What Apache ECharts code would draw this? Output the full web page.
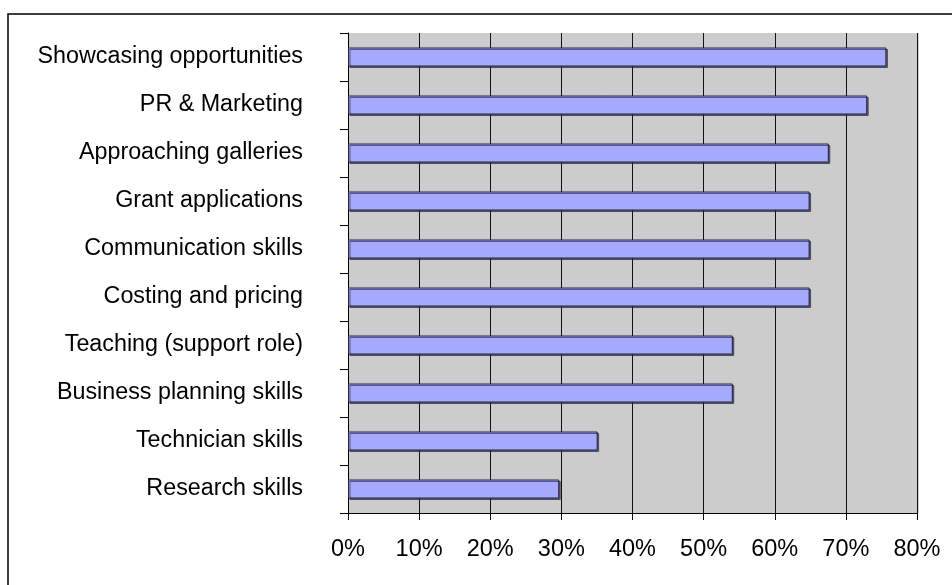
<!DOCTYPE html>
<html>
<head>
<meta charset="utf-8">
<title>Skills wanted</title>
<script src="https://cdn.jsdelivr.net/npm/echarts@6/dist/echarts.min.js"></script>
<style>
  html, body { margin: 0; padding: 0; background: #fff; }
  #chart { width: 952px; height: 585px; }
</style>
</head>
<body>
<div id="chart"></div>
<script>
// Skill areas, listed top to bottom
const skills = [
  'Showcasing opportunities',
  'PR & Marketing',
  'Approaching galleries',
  'Grant applications',
  'Communication skills',
  'Costing and pricing',
  'Teaching (support role)',
  'Business planning skills',
  'Technician skills',
  'Research skills'
];

// Share of respondents naming each skill
const shares = [0.757, 0.730, 0.676, 0.649, 0.649, 0.649, 0.541, 0.541, 0.351, 0.297];

// Value axis ticks
const axisMin = 0;
const axisMax = 0.8;
const axisStep = 0.1;

const FONT = '"Liberation Sans", Arial, sans-serif';

const chart = echarts.init(document.getElementById('chart'), null, { renderer: 'canvas' });

chart.setOption({
  animation: false,
  backgroundColor: '#ffffff',
  textStyle: { fontFamily: FONT },
  graphic: [
    {
      type: 'rect',
      z: -10,
      shape: { x: 8, y: 14, width: 980, height: 620 },
      style: { fill: 'none', stroke: '#000', lineWidth: 1.5 }
    }
  ],
  grid: {
    left: 348,
    top: 33,
    right: 35,
    bottom: 72,
    show: true,
    backgroundColor: '#cccccc',
    borderWidth: 0,
    shadowColor: 'rgba(0,0,0,0.35)',
    shadowOffsetX: 1.5,
    shadowOffsetY: 0,
    containLabel: false
  },
  xAxis: {
    type: 'value',
    min: axisMin,
    max: axisMax,
    interval: axisStep,
    axisLine: { show: true, lineStyle: { color: '#000', width: 1 } },
    axisTick: { show: true, length: 7, lineStyle: { color: '#000', width: 1 } },
    splitLine: { show: true, lineStyle: { color: '#111', width: 1 } },
    axisLabel: {
      color: '#000',
      fontSize: 23.5,
      fontFamily: FONT,
      margin: 25,
      formatter: v => Math.round(v * 100) + '%'
    }
  },
  yAxis: {
    type: 'category',
    data: skills,
    inverse: true,
    axisLine: { show: true, lineStyle: { color: '#000', width: 1 } },
    axisTick: { show: true, length: 8, lineStyle: { color: '#000', width: 1 } },
    splitLine: { show: false },
    axisLabel: {
      color: '#000',
      fontSize: 23.3,
      fontFamily: FONT,
      margin: 45
    }
  },
  series: [
    {
      type: 'bar',
      data: shares,
      barWidth: 19,
      itemStyle: {
        color: '#a6aaff',
        borderColor: '#22223c',
        borderWidth: 1,
        shadowColor: 'rgba(40,40,70,0.65)',
        shadowOffsetX: 1.5,
        shadowOffsetY: 1.5,
        shadowBlur: 0
      }
    }
  ]
});
</script>
</body>
</html>
